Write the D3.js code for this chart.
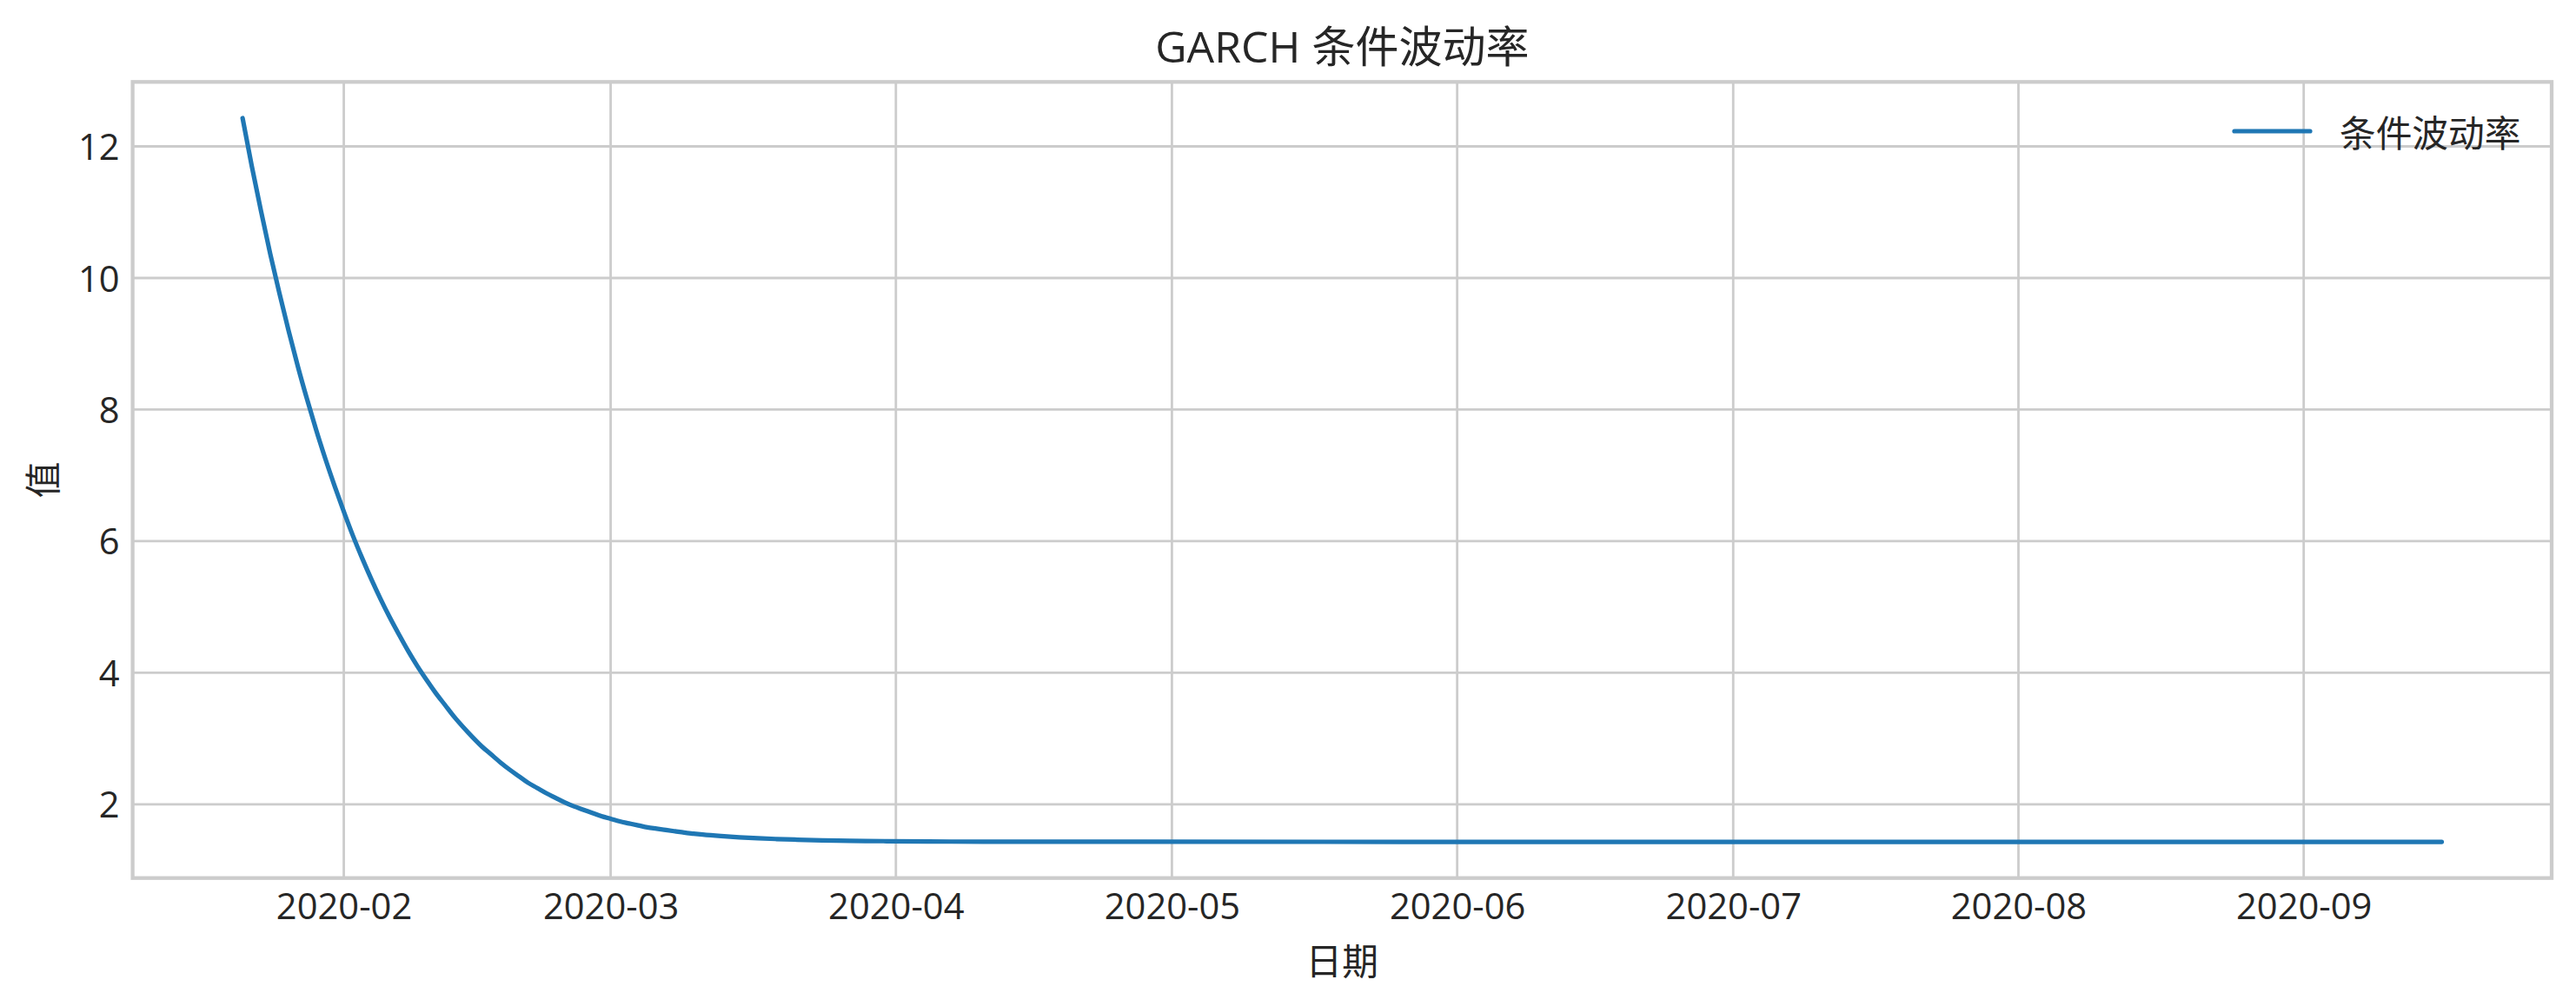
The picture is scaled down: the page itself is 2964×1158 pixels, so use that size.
<!DOCTYPE html>
<html>
<head>
<meta charset="utf-8">
<script src="https://cdn.jsdelivr.net/npm/d3@7"></script>
<style>
  html, body { margin: 0; padding: 0; background: #ffffff; }
  svg { display: block; }
</style>
</head>
<body>
<svg id="chart" width="2964" height="1158"></svg>
<script>
// ---- data ----
const dates = [
  "2020-01-21","2020-01-22","2020-01-23","2020-01-24","2020-01-25","2020-01-26","2020-01-27","2020-01-28","2020-01-29","2020-01-30",
  "2020-01-31","2020-02-01","2020-02-02","2020-02-03","2020-02-04","2020-02-05","2020-02-06","2020-02-07","2020-02-08","2020-02-09",
  "2020-02-10","2020-02-11","2020-02-12","2020-02-13","2020-02-14","2020-02-15","2020-02-16","2020-02-17","2020-02-18","2020-02-19",
  "2020-02-20","2020-02-21","2020-02-22","2020-02-23","2020-02-24","2020-02-25","2020-02-26","2020-02-27","2020-02-28","2020-02-29",
  "2020-03-01","2020-03-02","2020-03-03","2020-03-04","2020-03-05","2020-03-06","2020-03-07","2020-03-08","2020-03-09","2020-03-10",
  "2020-03-11","2020-03-13","2020-03-15","2020-03-17","2020-03-19","2020-03-21","2020-03-24","2020-03-27","2020-03-31","2020-04-07",
  "2020-04-14","2020-04-28","2020-05-26","2020-06-23","2020-07-21","2020-08-18","2020-09-16"
];
const volatility = [
  12.43,11.70,11.02,10.37,9.77,9.20,8.66,8.16,7.69,7.25,
  6.84,6.45,6.08,5.74,5.42,5.12,4.84,4.58,4.33,4.10,
  3.89,3.69,3.51,3.33,3.17,3.02,2.88,2.76,2.64,2.53,
  2.43,2.33,2.25,2.17,2.10,2.03,1.97,1.92,1.87,1.82,
  1.78,1.74,1.71,1.68,1.65,1.63,1.61,1.59,1.57,1.555,
  1.541,1.518,1.499,1.484,1.473,1.464,1.453,1.446,1.440,1.434,
  1.432,1.431,1.430,1.430,1.430,1.430,1.430
];
const yTicks = [2, 4, 6, 8, 10, 12];
const titleText = "GARCH 条件波动率";
const seriesName = "条件波动率";
const xLabelText = "日期";
const yLabelText = "值";

// ---- layout ----
const W = 2964, H = 1158;
const plot = { left: 152.6, right: 2936, top: 94.3, bottom: 1010.7 };
const textColor = "#262626";
const gridColor = "#cccccc";
const lineColor = "#1f77b4";
const latinFont = "'Open Sans', 'Noto Sans CJK SC', sans-serif";
const cjkFont = "'Noto Sans CJK SC', 'Open Sans', sans-serif";

const parse = d3.utcParse("%Y-%m-%d");
const data = dates.map((d, i) => ({ date: parse(d), value: volatility[i] }));

// matplotlib-style 5% margins around the data extent
const xExt = d3.extent(data, d => d.date.getTime());
const xPad = (xExt[1] - xExt[0]) * 0.05;
const yExt = d3.extent(data, d => d.value);
const yPad = (yExt[1] - yExt[0]) * 0.05;

const x = d3.scaleUtc()
  .domain([new Date(xExt[0] - xPad), new Date(xExt[1] + xPad)])
  .range([plot.left, plot.right]);
const y = d3.scaleLinear()
  .domain([yExt[0] - yPad, yExt[1] + yPad])
  .range([plot.bottom, plot.top]);

const svg = d3.select("#chart");
svg.append("rect").attr("width", W).attr("height", H).attr("fill", "#ffffff");

const xTickVals = x.ticks(d3.utcMonth.every(1));
const fmt = d3.utcFormat("%Y-%m");

// grid
const grid = svg.append("g");
grid.selectAll("line.vx").data(xTickVals).join("line")
  .attr("x1", d => x(d)).attr("x2", d => x(d))
  .attr("y1", plot.top).attr("y2", plot.bottom)
  .attr("stroke", gridColor).attr("stroke-width", 2.8);
grid.selectAll("line.hy").data(yTicks).join("line")
  .attr("x1", plot.left).attr("x2", plot.right)
  .attr("y1", d => y(d)).attr("y2", d => y(d))
  .attr("stroke", gridColor).attr("stroke-width", 2.8);

// x axis (labels only, no tick marks)
const xAxis = d3.axisBottom(x).tickValues(xTickVals).tickFormat(fmt).tickSize(0).tickPadding(0);
const gx = svg.append("g").attr("transform", `translate(0,${plot.bottom})`).call(xAxis);
gx.select(".domain").remove();
gx.selectAll("text")
  .attr("font-family", latinFont).attr("font-size", 41.7).attr("fill", textColor)
  .attr("dy", null).attr("y", 47.3);

// y axis
const yAxis = d3.axisLeft(y).tickValues(yTicks).tickFormat(d3.format("d")).tickSize(0).tickPadding(0);
const gy = svg.append("g").attr("transform", `translate(${plot.left},0)`).call(yAxis);
gy.select(".domain").remove();
gy.selectAll("text")
  .attr("font-family", latinFont).attr("font-size", 41.7).attr("fill", textColor)
  .attr("x", -15).attr("dy", "0.36em");

// line
const line = d3.line().x(d => x(d.date)).y(d => y(d.value)).curve(d3.curveMonotoneX);
svg.append("path").datum(data)
  .attr("d", line).attr("fill", "none")
  .attr("stroke", lineColor).attr("stroke-width", 5.2)
  .attr("stroke-linecap", "round").attr("stroke-linejoin", "round");

// frame
svg.append("rect")
  .attr("x", plot.left).attr("y", plot.top)
  .attr("width", plot.right - plot.left).attr("height", plot.bottom - plot.top)
  .attr("fill", "none").attr("stroke", gridColor).attr("stroke-width", 4.3);

// title
svg.append("text")
  .attr("x", (plot.left + plot.right) / 2).attr("y", 53)
  .attr("text-anchor", "middle").attr("dominant-baseline", "central")
  .attr("font-family", latinFont).attr("font-size", 50).attr("fill", textColor)
  .text(titleText);

// axis labels
svg.append("text")
  .attr("x", (plot.left + plot.right) / 2).attr("y", 1104)
  .attr("text-anchor", "middle").attr("dominant-baseline", "central")
  .attr("font-family", cjkFont).attr("font-size", 41.7).attr("fill", textColor)
  .text(xLabelText);
svg.append("text")
  .attr("transform", `translate(47,${(plot.top + plot.bottom) / 2}) rotate(-90)`)
  .attr("text-anchor", "middle").attr("dominant-baseline", "central")
  .attr("font-family", cjkFont).attr("font-size", 41.7).attr("fill", textColor)
  .text(yLabelText);

// legend (no frame)
const legend = svg.append("g");
legend.append("line")
  .attr("x1", 2571).attr("x2", 2658).attr("y1", 151).attr("y2", 151)
  .attr("stroke", lineColor).attr("stroke-width", 5.2).attr("stroke-linecap", "round");
legend.append("text")
  .attr("x", 2692).attr("y", 151)
  .attr("text-anchor", "start").attr("dominant-baseline", "central")
  .attr("font-family", cjkFont).attr("font-size", 41.7).attr("fill", textColor)
  .text(seriesName);
</script>
</body>
</html>
